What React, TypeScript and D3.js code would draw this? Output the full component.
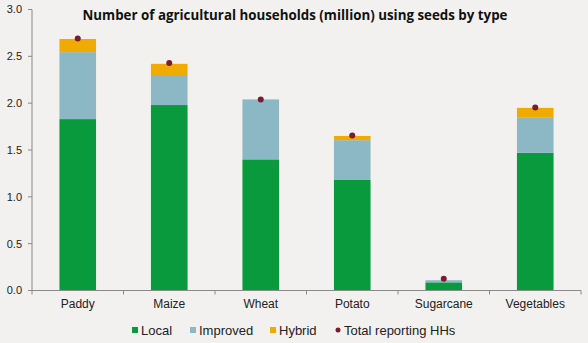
import React from "react";
import * as d3 from "d3";

const categories = ["Paddy", "Maize", "Wheat", "Potato", "Sugarcane", "Vegetables"];
const local = [1.83, 1.98, 1.40, 1.18, 0.087, 1.47];
const improved = [0.715, 0.31, 0.64, 0.425, 0.023, 0.38];
const hybrid = [0.14, 0.13, 0.0, 0.045, 0.0, 0.10];
const totalHH = [2.69, 2.43, 2.04, 1.655, 0.125, 1.955];
const yTicks = [0, 0.5, 1.0, 1.5, 2.0, 2.5, 3.0];

const W = 588, H = 343;
const colors = { local: "#0a9a3e", improved: "#8cb8c6", hybrid: "#f0aa00", dot: "#7b1c2c" };

export default function App() {
  const x = d3.scaleBand<string>().domain(categories).range([32, 581]).paddingInner(0).paddingOuter(0);
  const y = d3.scaleLinear().domain([0, 3]).range([290.5, 9.5]);
  const barW = x.bandwidth() * 0.4;
  const stackData = categories.map((c, i) => ({ c, local: local[i], improved: improved[i], hybrid: hybrid[i] }));
  const keys = ["local", "improved", "hybrid"] as const;
  const series = d3.stack<any>().keys(keys as any)(stackData);
  const font = "'Liberation Sans', Arial, sans-serif";
  const axisColor = "#8a8a8a";
  const legend = [
    { label: "Local", color: colors.local, x: 132, type: "sq" },
    { label: "Improved", color: colors.improved, x: 190, type: "sq" },
    { label: "Hybrid", color: colors.hybrid, x: 270, type: "sq" },
    { label: "Total reporting HHs", color: colors.dot, x: 335, type: "dot" },
  ];
  return (
    <div style={{ position: "fixed", left: 0, top: 0 }}>
      <svg width={W} height={H} style={{ display: "block" }}>
        <rect width={W} height={H} fill="#f2f1ef" />
        {series.map((s) =>
          s.map((d, i) => (
            <rect
              key={s.key + i}
              x={(x(categories[i]) as number) + (x.bandwidth() - barW) / 2}
              y={y(d[1])}
              width={barW}
              height={Math.max(0, y(d[0]) - y(d[1]))}
              fill={(colors as any)[s.key]}
            />
          ))
        )}
        {categories.map((c, i) => (
          <circle key={c} cx={(x(c) as number) + x.bandwidth() / 2} cy={y(totalHH[i])} r={3} fill={colors.dot} />
        ))}
        <line x1={32} x2={32} y1={y(3)} y2={y(0)} stroke={axisColor} />
        {yTicks.map((t) => (
          <g key={t}>
            <line x1={28} x2={32} y1={y(t)} y2={y(t)} stroke={axisColor} />
            <text x={22} y={y(t)} dy="0.35em" textAnchor="end" fontSize={11} fontFamily={font} fill="#222">
              {t.toFixed(1)}
            </text>
          </g>
        ))}
        <line x1={32} x2={581} y1={y(0)} y2={y(0)} stroke={axisColor} />
        {[...categories.map((c) => x(c) as number), 581].map((bx, i) => (
          <line key={i} x1={bx} x2={bx} y1={y(0)} y2={y(0) + 4} stroke={axisColor} />
        ))}
        {categories.map((c) => (
          <text key={c} x={(x(c) as number) + x.bandwidth() / 2} y={308} textAnchor="middle" fontSize={12} fontFamily={font} fill="#222">
            {c}
          </text>
        ))}
        <text x={295} y={20} textAnchor="middle" fontSize={14} fontWeight="bold" fontFamily="'Open Sans', sans-serif" fill="#111" textLength={425} lengthAdjust="spacingAndGlyphs">
          Number of agricultural households (million) using seeds by type
        </text>
        {legend.map((l) => (
          <g key={l.label}>
            {l.type === "sq" ? (
              <rect x={l.x} y={327} width={6} height={6} fill={l.color} />
            ) : (
              <circle cx={l.x + 3} cy={330} r={2.5} fill={l.color} />
            )}
            <text x={l.x + 9} y={334.5} fontSize={13} fontFamily={font} fill="#222">
              {l.label}
            </text>
          </g>
        ))}
      </svg>
    </div>
  );
}
